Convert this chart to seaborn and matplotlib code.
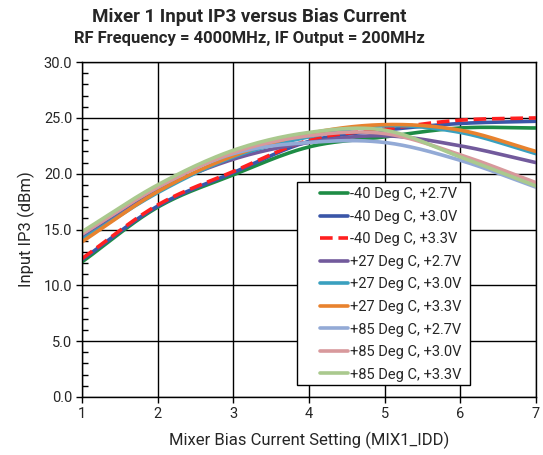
import numpy as np
import pandas as pd
import matplotlib
matplotlib.use('Agg')
import matplotlib.pyplot as plt
import seaborn as sns
from matplotlib.ticker import MultipleLocator, FormatStrFormatter
from matplotlib.patches import Rectangle

bias = [1, 2, 3, 4, 5, 6, 7]

labels = ['-40 Deg C, +2.7V', '-40 Deg C, +3.0V', '-40 Deg C, +3.3V',
          '+27 Deg C, +2.7V', '+27 Deg C, +3.0V', '+27 Deg C, +3.3V',
          '+85 Deg C, +2.7V', '+85 Deg C, +3.0V', '+85 Deg C, +3.3V']

m40_27 = [12.1, 17.0, 19.9, 22.4, 23.3, 24.1, 24.1]
m40_30 = [12.3, 17.1, 20.1, 22.9, 23.9, 24.5, 24.7]
m40_33 = [12.4, 17.2, 20.2, 23.0, 24.0, 24.8, 25.0]
p27_27 = [14.3, 18.5, 21.3, 22.8, 23.4, 22.5, 21.0]
p27_30 = [14.1, 18.3, 21.5, 23.3, 24.3, 23.7, 21.8]
p27_33 = [13.9, 18.4, 21.6, 23.6, 24.4, 23.9, 22.0]
p85_27 = [14.6, 18.8, 21.8, 22.8, 22.8, 21.2, 18.8]
p85_30 = [14.6, 18.8, 21.9, 23.4, 23.6, 21.7, 19.2]
p85_33 = [14.8, 19.0, 22.1, 23.7, 23.9, 21.5, 18.9]

series = [m40_27, m40_30, m40_33, p27_27, p27_30, p27_33, p85_27, p85_30, p85_33]
colors = ['#1e8c45', '#3a56a8', '#ff2020', '#725a9c', '#3aa0bf',
          '#e8822e', '#93aad6', '#d8999c', '#aac98e']


def smooth(x, y, n=30):
    # catmull-rom, similar to excel smoothed lines
    x = np.asarray(x, float)
    y = np.asarray(y, float)
    px = np.concatenate([[2 * x[0] - x[1]], x, [2 * x[-1] - x[-2]]])
    py = np.concatenate([[2 * y[0] - y[1]], y, [2 * y[-1] - y[-2]]])
    xs, ys = [], []
    t = np.linspace(0, 1, n, endpoint=False)
    for i in range(1, len(px) - 2):
        for p, out in ((px, xs), (py, ys)):
            p0, p1, p2, p3 = p[i - 1], p[i], p[i + 1], p[i + 2]
            out.append(0.5 * (2 * p1 + (-p0 + p2) * t
                              + (2 * p0 - 5 * p1 + 4 * p2 - p3) * t ** 2
                              + (-p0 + 3 * p1 - 3 * p2 + p3) * t ** 3))
    xs.append([x[-1]])
    ys.append([y[-1]])
    return np.concatenate(xs), np.concatenate(ys)


sns.set_style('white')
plt.rcParams['font.family'] = ['Roboto', 'DejaVu Sans']

fig = plt.figure(figsize=(5.43, 4.55), dpi=100)
ax = fig.add_axes([0.151, 0.1275, 0.836, 0.736])

frames = []
for lab, vals in zip(labels, series):
    sx, sy = smooth(bias, vals)
    frames.append(pd.DataFrame({'x': sx, 'y': sy, 'curve': lab}))
df = pd.concat(frames, ignore_index=True)

for lab, col in zip(labels, colors):
    d = df[df['curve'] == lab]
    ls = (0, (3.5, 1.6)) if lab == '-40 Deg C, +3.3V' else '-'
    sns.lineplot(data=d, x='x', y='y', ax=ax, color=col, lw=2.6,
                 linestyle=ls, label=lab, sort=False)

ax.set_xlim(1, 7)
ax.set_ylim(0, 30)
ax.xaxis.set_major_locator(MultipleLocator(1))
ax.yaxis.set_major_locator(MultipleLocator(5))
ax.yaxis.set_minor_locator(MultipleLocator(1))
ax.yaxis.set_major_formatter(FormatStrFormatter('%.1f'))
ax.grid(True, which='major', color='black', lw=1.0)
for s in ax.spines.values():
    s.set_color('black')
    s.set_linewidth(1.0)
ax.tick_params(axis='both', which='major', direction='out', length=4, width=1,
               color='black', labelsize=10.5, pad=3)
ax.tick_params(axis='y', which='minor', direction='in', length=4, width=1,
               color='black', left=True)
ax.tick_params(axis='x', bottom=True)
ax.tick_params(axis='y', left=True)

ax.set_xlabel('Mixer Bias Current Setting (MIX1_IDD)', fontsize=12, labelpad=8)
ax.set_ylabel('Input IP3 (dBm)', fontsize=12, labelpad=6)

fig.text(0.459, 0.963, 'Mixer 1 Input IP3 versus Bias Current', ha='center',
         va='center', fontsize=13.5, fontweight='bold')
fig.text(0.459, 0.916, 'RF Frequency = 4000MHz, IF Output = 200MHz', ha='center',
         va='center', fontsize=12, fontweight='bold')

# legend box drawn separately so the entries can sit inset like the original
ax.add_patch(Rectangle((0.4736, 0.0358), 0.381, 0.606, transform=ax.transAxes,
                       facecolor='white', edgecolor='black', lw=1.0, zorder=4))
leg = ax.legend(loc='upper left', bbox_to_anchor=(0.524, 0.626), fontsize=10.5,
                frameon=False, handlelength=1.92, handletextpad=0.12,
                labelspacing=0.585, borderpad=0, borderaxespad=0)
leg.set_zorder(5)

fig.savefig('out.png', dpi=100)
